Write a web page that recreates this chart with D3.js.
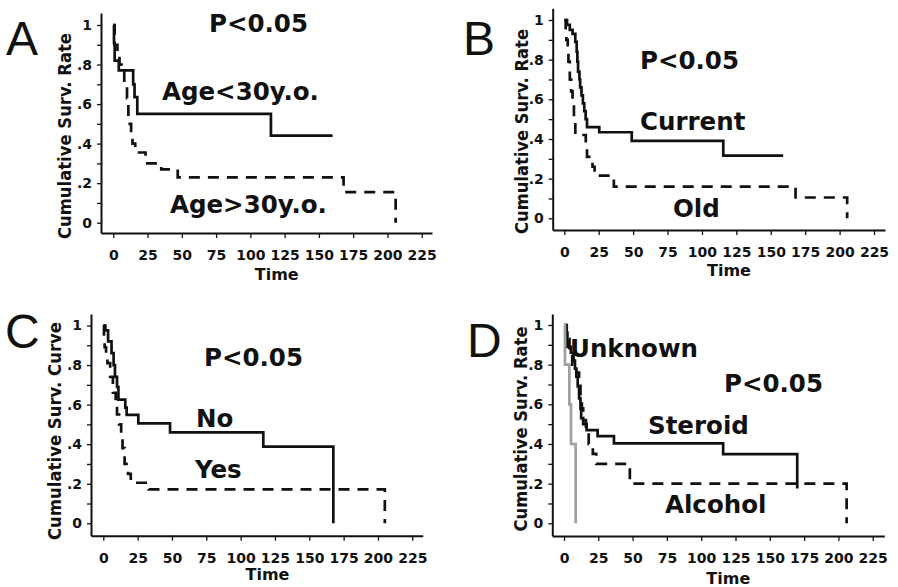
<!DOCTYPE html>
<html>
<head>
<meta charset="utf-8">
<script src="https://cdn.jsdelivr.net/npm/d3@7/dist/d3.min.js"></script>
<style>
  html, body { margin: 0; padding: 0; background: #fff; }
  svg { display: block; }
  .tick text { font-family: "DejaVu Sans", Verdana, sans-serif; font-weight: bold; font-size: 14px; fill: #111; }
</style>
</head>
<body>
<svg id="chart" width="898" height="587"></svg>
<script>
// ---------------- data ----------------
const timeTicks = [0, 25, 50, 75, 100, 125, 150, 175, 200, 225];
const survTicks = [0, 0.1, 0.2, 0.3, 0.4, 0.5, 0.6, 0.7, 0.8, 0.9, 1];
const survTickLabels = ["0", "", ".2", "", ".4", "", ".6", "", ".8", "", "1"];

// Panel A : age
const ageUnder30 = [[0,1],[0.5,0.91],[1,0.82],[4,0.77],[14.5,0.70],[15.5,0.635],[17.5,0.55],[115,0.44]];
const ageUnder30End = 160;
const ageOver30 = [[0,1],[1,0.9],[3,0.86],[4.5,0.8],[6,0.77],[8,0.7],[10,0.63],[11,0.5],[13,0.45],[14,0.4],[16,0.355],[23.5,0.30],[35,0.27],[47,0.229],[168,0.155],[206,0]];
const ageOver30End = 206;

// Panel B : current vs old
const current = [[0,1],[2,0.975],[4,0.95],[6,0.93],[8,0.89],[9,0.84],[9.5,0.79],[10,0.74],[11,0.7],[11.5,0.66],[12.5,0.62],[13.5,0.58],[14.5,0.54],[15.5,0.5],[16.5,0.46],[25.4,0.434],[49,0.39],[115.5,0.316]];
const currentEnd = 159;
const old = [[0,1],[1,0.95],[1.5,0.9],[2.5,0.84],[3,0.79],[4,0.7],[5,0.64],[6,0.57],[7,0.5],[8,0.42],[15.6,0.37],[16.5,0.31],[20.5,0.26],[22,0.215],[36,0.16],[168,0.105],[205.5,0]];
const oldEnd = 205.5;

// Panel C : no vs yes
const groupNo = [[0,1],[1.5,0.975],[3.5,0.92],[6,0.86],[7.5,0.8],[8.5,0.74],[10,0.69],[11,0.625],[16,0.585],[17,0.548],[25.5,0.505],[48.6,0.46],[116.5,0.388],[167.5,0]];
const groupNoEnd = 167.5;
const groupYes = [[0,1],[0.5,0.93],[1,0.89],[2,0.85],[3,0.81],[5,0.74],[7,0.66],[9,0.6],[10,0.55],[11.5,0.5],[13,0.44],[14,0.38],[15.5,0.3],[18,0.25],[20,0.205],[33,0.172],[205,0]];
const groupYesEnd = 205;

// Panel D : steroid / alcohol / unknown
const steroid = [[0,1],[1,0.96],[2.5,0.89],[5,0.86],[7,0.82],[8,0.78],[9,0.74],[10,0.69],[11,0.63],[12,0.58],[12.5,0.53],[14,0.5],[16.5,0.47],[24.5,0.44],[36.4,0.403],[116,0.349],[170,0.175]];
const steroidEnd = 170;
const alcohol = [[0,1],[2,0.93],[4,0.87],[6,0.8],[9,0.76],[11,0.7],[12,0.64],[13,0.58],[14,0.52],[16,0.46],[18,0.4],[21,0.35],[23.5,0.3],[48,0.2],[206,0]];
const alcoholEnd = 206;
const unknown = [[0,1],[0.7,0.8],[3.9,0.6],[5.1,0.4],[8.5,0]];
const unknownEnd = 8.5;

// ---------------- drawing ----------------
const svg = d3.select("#chart");
const BOLD = '"DejaVu Sans", Verdana, sans-serif';

const panels = [
  { letter: "A", lx: 6, ly: 55, axisX: 101, axisRight: 432, axisTop: 13, axisBottom: 233, x0: 113.3, x225: 421.7, y1: 25, y0: 222.7,
    title: "Cumulative Surv. Rate", titleX: 71, titleY: 136, titleLen: 206, timeX: 276.7, timeY: 279.5,
    series: [ {data: ageUnder30, end: ageUnder30End, style: "solid"}, {data: ageOver30, end: ageOver30End, style: "dash"} ],
    labels: [ ["P<0.05", 209, 31.7], ["Age<30y.o.", 162, 100], ["Age>30y.o.", 170, 213.3] ] },
  { letter: "B", lx: 463, ly: 55, axisX: 552.7, axisRight: 885, axisTop: 8.3, axisBottom: 230, x0: 564.3, x225: 874, y1: 20, y0: 218.3,
    title: "Cumulative Surv. Rate", titleX: 528, titleY: 131.5, titleLen: 205, timeX: 729, timeY: 276,
    series: [ {data: current, end: currentEnd, style: "solid"}, {data: old, end: oldEnd, style: "dash"} ],
    labels: [ ["P<0.05", 640, 69], ["Current", 640, 130], ["Old", 673, 216.7] ] },
  { letter: "C", lx: 5, ly: 347.5, axisX: 91, axisRight: 422.7, axisTop: 314, axisBottom: 535.7, x0: 103.3, x225: 412.3, y1: 325.5, y0: 523.3,
    title: "Cumulative Surv. Curve", titleX: 61, titleY: 431, titleLen: 218, timeX: 267.5, timeY: 579.5,
    series: [ {data: groupNo, end: groupNoEnd, style: "solid"}, {data: groupYes, end: groupYesEnd, style: "dash"} ],
    labels: [ ["P<0.05", 204, 366], ["No", 196, 426.7], ["Yes", 195, 478.3] ] },
  { letter: "D", lx: 467, ly: 356.7, axisX: 552.3, axisRight: 884.3, axisTop: 314, axisBottom: 536, x0: 564, x225: 872.7, y1: 325, y0: 523.3,
    title: "Cumulative Surv. Rate", titleX: 527, titleY: 429, titleLen: 205, timeX: 728.3, timeY: 583.5,
    series: [ {data: alcohol, end: alcoholEnd, style: "dash"}, {data: steroid, end: steroidEnd, style: "solid"}, {data: unknown, end: unknownEnd, style: "grey"} ],
    labels: [ ["Unknown", 570, 356.7], ["P<0.05", 724, 391.7], ["Steroid", 648, 434], ["Alcohol", 665, 512.7] ] }
];

panels.forEach(p => {
  const g = svg.append("g");

  // scales: map 0..225 and 0..1 to measured pixel positions, then extend domain to the axis line ends
  const xBase = d3.scaleLinear().domain([0, 225]).range([p.x0, p.x225]);
  const yBase = d3.scaleLinear().domain([0, 1]).range([p.y0, p.y1]);
  const x = d3.scaleLinear().domain([xBase.invert(p.axisX), xBase.invert(p.axisRight)]).range([p.axisX, p.axisRight]);
  const y = d3.scaleLinear().domain([yBase.invert(p.axisBottom), yBase.invert(p.axisTop)]).range([p.axisBottom, p.axisTop]);

  // axes
  const yAxis = d3.axisLeft(y).tickValues(survTicks).tickSize(4).tickSizeOuter(0).tickPadding(5)
    .tickFormat((d, i) => survTickLabels[i]);
  const xAxis = d3.axisBottom(x).tickValues(timeTicks).tickSize(5).tickSizeOuter(0).tickPadding(12)
    .tickFormat(d3.format("d"));

  const ya = g.append("g").attr("transform", `translate(${p.axisX},0)`).call(yAxis);
  const xa = g.append("g").attr("transform", `translate(0,${p.axisBottom})`).call(xAxis);
  [ya, xa].forEach(a => {
    a.select(".domain").attr("stroke", "#111").attr("stroke-width", 2);
    a.selectAll(".tick line").attr("stroke", "#111").attr("stroke-width", 1.3);
  });

  // curves
  const line = d3.line().x(d => x(d[0])).y(d => y(d[1])).curve(d3.curveStepAfter);
  p.series.forEach(s => {
    const pts = s.data.slice();
    const last = pts[pts.length - 1];
    if (s.end > last[0]) pts.push([s.end, last[1]]);
    const path = g.append("path").attr("d", line(pts)).attr("fill", "none")
      .attr("stroke-width", 2.7).attr("stroke-linejoin", "miter");
    if (s.style === "solid") path.attr("stroke", "#111");
    if (s.style === "dash") path.attr("stroke", "#111").attr("stroke-dasharray", "11,8");
    if (s.style === "grey") path.attr("stroke", "#a0a0a0");
  });

  // panel letter
  g.append("text").attr("x", p.lx).attr("y", p.ly).text(p.letter)
    .attr("font-family", '"Liberation Sans", Arial, sans-serif').attr("font-size", 48).attr("fill", "#111");

  // y title
  g.append("text").attr("transform", `translate(${p.titleX},${p.titleY}) rotate(-90)`)
    .attr("text-anchor", "middle").attr("font-family", BOLD).attr("font-weight", "bold")
    .attr("font-size", 18).attr("textLength", p.titleLen).attr("lengthAdjust", "spacingAndGlyphs")
    .attr("fill", "#111").text(p.title);

  // x title
  g.append("text").attr("x", p.timeX).attr("y", p.timeY).attr("text-anchor", "middle")
    .attr("font-family", BOLD).attr("font-weight", "bold").attr("font-size", 16).attr("fill", "#111").text("Time");

  // annotations
  p.labels.forEach(l => {
    g.append("text").attr("x", l[1]).attr("y", l[2]).text(l[0])
      .attr("font-family", BOLD).attr("font-weight", "bold").attr("font-size", 24.5).attr("fill", "#111");
  });
});
</script>
</body>
</html>
